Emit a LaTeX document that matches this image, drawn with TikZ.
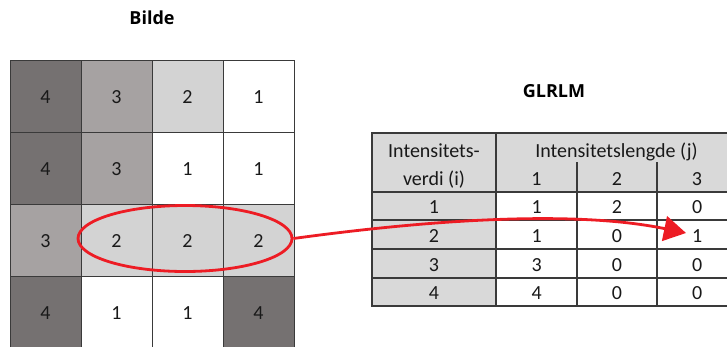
\documentclass[tikz,border=0pt]{standalone}
\usepackage{fontspec}
\setmainfont{Carlito}
\newfontfamily\titlefont{Open Sans}
\usetikzlibrary{shapes.geometric,arrows.meta}

\definecolor{gfour}{RGB}{117,113,113}
\definecolor{gthree}{RGB}{166,162,162}
\definecolor{gtwo}{RGB}{211,211,211}
\definecolor{gone}{RGB}{255,255,255}
\definecolor{headfill}{RGB}{217,217,217}
\definecolor{rule}{RGB}{58,58,58}
\definecolor{mark}{RGB}{237,28,36}
\definecolor{ink}{RGB}{25,25,25}

\tikzset{
  pix/.style={x=1pt,y=-1pt},
  cell/.style={draw=rule,line width=1.4pt,minimum width=71pt,minimum height=72pt,
    inner sep=0pt,anchor=north west},
  num/.style={anchor=base,inner sep=0pt,text=ink,font=\fontsize{20}{24}\selectfont},
  title/.style={anchor=base,inner sep=0pt,text=black,font=\titlefont\bfseries\fontsize{18}{22}\selectfont},
  tline/.style={draw=rule,line width=1.3pt},
  redline/.style={draw=mark,line width=2.8pt}
}

\begin{document}
\begin{tikzpicture}[pix]
\clip (0,0) rectangle (727,346);
\fill[white] (0,0) rectangle (727,346);

% titles
\node[title] (bilde) at (152,24) {Bilde};
\node[title] (glrlm) at (554,97.5) {GLRLM};

% image grid: rows of grey levels
\foreach \row [count=\r from 0] in {{4,3,2,1},{4,3,1,1},{3,2,2,2},{4,1,1,4}}{
  \foreach \v [count=\c from 0] in \row {
    \ifcase\v\or\def\fc{gone}\or\def\fc{gtwo}\or\def\fc{gthree}\or\def\fc{gfour}\fi
    \node[cell,fill=\fc] (px-\r-\c) at (10+71*\c,60+72*\r) {};
    \node[num] (pv-\r-\c) at (45.5+71*\c,103.5+72*\r) {\v};
  }
}

% run-length matrix table
\fill[headfill] (372,133) rectangle (737,192);
\fill[headfill] (372,192) rectangle (496,306);
\draw[tline] (372,133) rectangle (737,306);
\foreach \y in {192,220,249,278} \draw[tline] (372,\y) -- (737,\y);
\draw[tline] (496,133) -- (496,306);
\foreach \x in {577,657} \draw[tline] (\x,162) -- (\x,306);

\node[num] (h-i1) at (434,157) {Intensitets-};
\node[num] (h-i2) at (434,185) {verdi (i)};
\node[num] (h-j) at (616.5,157) {Intensitetslengde (j)};
\foreach \j/\x in {1/536.5,2/617,3/697} \node[num] (h-\j) at (\x,185) {\j};

\foreach \row/\yb [count=\r from 1] in {{1,2,0}/213,{1,0,1}/242,{3,0,0}/271,{4,0,0}/299}{
  \node[num] (i-\r) at (434,\yb) {\r};
  \foreach \v [count=\c from 1] in \row {
    \pgfmathsetmacro{\xx}{456.5+80.25*\c}
    \node[num] (m-\r-\c) at (\xx,\yb) {\v};
  }
}

% the highlighted run and its entry in the matrix
\node[ellipse,redline,minimum width=214pt,minimum height=66pt,inner sep=0pt]
  (run) at (185,238.5) {};
\coordinate (hit) at (686,233);
\draw[redline,-{Triangle[length=22pt,width=25pt]}]
  (run.east) .. controls (392,225) and (560,207) .. (hit);
\end{tikzpicture}
\end{document}
